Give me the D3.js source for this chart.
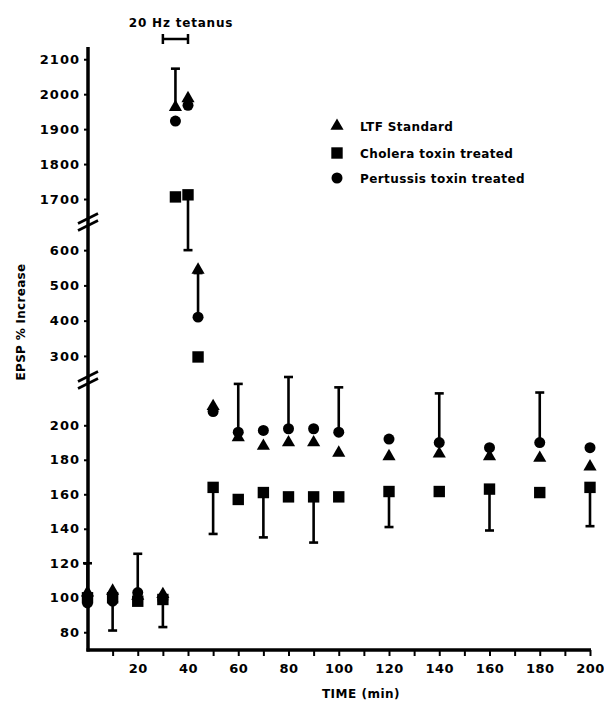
<!DOCTYPE html>
<html>
<head>
<meta charset="utf-8">
<script src="https://cdn.jsdelivr.net/npm/d3@7"></script>
<style>
  body { margin: 0; background: #fff; }
  text { font-family: "DejaVu Sans", sans-serif; font-weight: bold; fill: #000; }
</style>
</head>
<body>
<div id="chart"></div>
<script>
// time points (min)
const times = [0, 10, 20, 30, 35, 40, 44, 50, 60, 70, 80, 90, 100, 120, 140, 160, 180, 200];

// EPSP % increase per series
const ltfStandard = [103, 104, 101, 102, 1963, 1988, 544, 211, 193, 188, 190, 190, 184, 182, 183.5, 182, 181, 176];
const choleraToxin = [100, 100, 98, 99, 1706, 1712, 297, 164, 157, 161, 158.5, 158.5, 158.5, 161.6, 161.6, 163, 161, 164];
const pertussisToxin = [97, 98, 103, 99, 1923, 1968, 410, 208, 196, 197, 198, 198, 196, 192, 190, 187, 190, 187];

// error bar ends (null = none drawn)
const ltfErr = [120, null, null, null, 2073, null, null, null, null, null, null, null, null, null, null, null, null, null];
const choleraErr = [null, 81, null, 83, null, 600, null, 137, null, 135, null, 132, null, 141, null, 139, null, 141.5];
const pertussisErr = [null, null, 125.5, null, null, null, 535, null, 224, null, 228, null, 222, null, 218.5, null, 219, null];

// axis ticks
const xTicks = [10, 20, 30, 40, 50, 60, 70, 80, 90, 100, 110, 120, 130, 140, 150, 160, 170, 180, 190, 200];
const yTicksLow = [80, 100, 120, 140, 160, 180, 200];
const yTicksMid = [300, 400, 500, 600];
const yTicksTop = [1700, 1800, 1900, 2000, 2100];

const seriesNames = ["LTF Standard", "Cholera toxin treated", "Pertussis toxin treated"];
const tetanus = [30, 40];

const W = 604, H = 704;
const svg = d3.select("#chart").append("svg").attr("width", W).attr("height", H);

const x = d3.scaleLinear().domain([0, 200]).range([87.5, 590]);

// broken y axis: three linear pieces
const yLow = d3.scaleLinear().domain([70, 228]).range([649.5, 377]);
const yMid = d3.scaleLinear().domain([260, 660]).range([370, 229]);
const yTop = d3.scaleLinear().domain([1660, 2135]).range([213, 47]);
function y(v) {
  if (v < 250) return yLow(v);
  if (v < 1000) return yMid(v);
  return yTop(v);
}

const axisX = 88, axisBottom = 650, axisTopY = 47;

// y axis line
svg.append("line")
  .attr("x1", axisX).attr("x2", axisX)
  .attr("y1", axisTopY).attr("y2", axisBottom + 1.5)
  .attr("stroke", "#000").attr("stroke-width", 3.5);

// x axis line
svg.append("line")
  .attr("x1", axisX - 1.5).attr("x2", 591)
  .attr("y1", axisBottom).attr("y2", axisBottom)
  .attr("stroke", "#000").attr("stroke-width", 3.5);

function styleAxis(g, spacing) {
  g.select(".domain").remove();
  g.selectAll("line").attr("stroke", "#000").attr("stroke-width", 2);
  g.selectAll("text")
    .style("font-size", "13px")
    .style("letter-spacing", spacing)
    .style("font-family", "DejaVu Sans")
    .style("font-weight", "bold");
}

[[yLow, yTicksLow], [yMid, yTicksMid], [yTop, yTicksTop]].forEach(([sc, tv]) => {
  svg.append("g")
    .attr("transform", `translate(${axisX},0)`)
    .call(d3.axisLeft(sc).tickValues(tv).tickSize(4).tickPadding(4).tickSizeOuter(0).tickFormat(d3.format("d")))
    .call(g => styleAxis(g, "1px"));
});

svg.append("g")
  .attr("transform", `translate(0,${axisBottom})`)
  .call(d3.axisBottom(x).tickValues(xTicks).tickSize(6).tickPadding(8).tickSizeOuter(0)
    .tickFormat(d => (d % 20 === 0 ? d : "")))
  .call(g => styleAxis(g, "0.4px"));

// break marks
[222, 380].forEach(cy => {
  [-3.5, 3.5].forEach(dy => {
    svg.append("line")
      .attr("x1", axisX - 10).attr("y1", cy + dy + 5)
      .attr("x2", axisX + 10).attr("y2", cy + dy - 5)
      .attr("stroke", "#000").attr("stroke-width", 2.6);
  });
});

// axis titles
svg.append("text")
  .attr("transform", "translate(25,322) rotate(-90)")
  .attr("text-anchor", "middle")
  .style("font-size", "12px")
  .style("letter-spacing", "0.3px")
  .text("EPSP % Increase");

svg.append("text")
  .attr("x", 361).attr("y", 698)
  .attr("text-anchor", "middle")
  .style("font-size", "12px")
  .style("letter-spacing", "0.5px")
  .text("TIME (min)");

// tetanus bracket
svg.append("text")
  .attr("x", 181).attr("y", 27)
  .attr("text-anchor", "middle")
  .style("font-size", "12px")
  .style("letter-spacing", "0.8px")
  .text("20 Hz tetanus");
const by = 39;
svg.append("path")
  .attr("d", `M${x(tetanus[0])},${by - 5}V${by + 5}M${x(tetanus[0])},${by}H${x(tetanus[1])}M${x(tetanus[1])},${by - 5}V${by + 5}`)
  .attr("fill", "none").attr("stroke", "#000").attr("stroke-width", 2.5);

// error bars
const errSets = [
  [ltfStandard, ltfErr],
  [choleraToxin, choleraErr],
  [pertussisToxin, pertussisErr]
];
errSets.forEach(([vals, errs]) => {
  const bars = times.map((t, i) => ({ t, v: vals[i], e: errs[i] })).filter(d => d.e != null);
  const g = svg.append("g");
  g.selectAll("line.bar").data(bars).enter().append("line")
    .attr("x1", d => x(d.t)).attr("x2", d => x(d.t))
    .attr("y1", d => y(d.v)).attr("y2", d => y(d.e))
    .attr("stroke", "#000").attr("stroke-width", 2.6);
  g.selectAll("line.cap").data(bars).enter().append("line")
    .attr("x1", d => x(d.t) - 4.5).attr("x2", d => x(d.t) + 4.5)
    .attr("y1", d => y(d.e)).attr("y2", d => y(d.e))
    .attr("stroke", "#000").attr("stroke-width", 2.6);
});

// markers
const symTri = d3.symbol().type(d3.symbolTriangle).size(75);
const symSq = d3.symbol().type(d3.symbolSquare).size(130);
const symCir = d3.symbol().type(d3.symbolCircle).size(95);
const markerSets = [
  [ltfStandard, symTri],
  [choleraToxin, symSq],
  [pertussisToxin, symCir]
];
markerSets.forEach(([vals, sym]) => {
  svg.append("g").selectAll("path")
    .data(times.map((t, i) => ({ t, v: vals[i] })))
    .enter().append("path")
    .attr("transform", d => `translate(${x(d.t)},${y(d.v)})`)
    .attr("d", sym())
    .attr("fill", "#000");
});

// legend
const legY = [126, 153, 178];
const legSyms = [symTri, symSq, symCir];
seriesNames.forEach((name, i) => {
  svg.append("path")
    .attr("transform", `translate(337,${legY[i]})`)
    .attr("d", legSyms[i]())
    .attr("fill", "#000");
  svg.append("text")
    .attr("x", 360).attr("y", legY[i] + 4.5)
    .style("font-size", "12px")
    .style("letter-spacing", "0.4px")
    .text(name);
});
</script>
</body>
</html>
